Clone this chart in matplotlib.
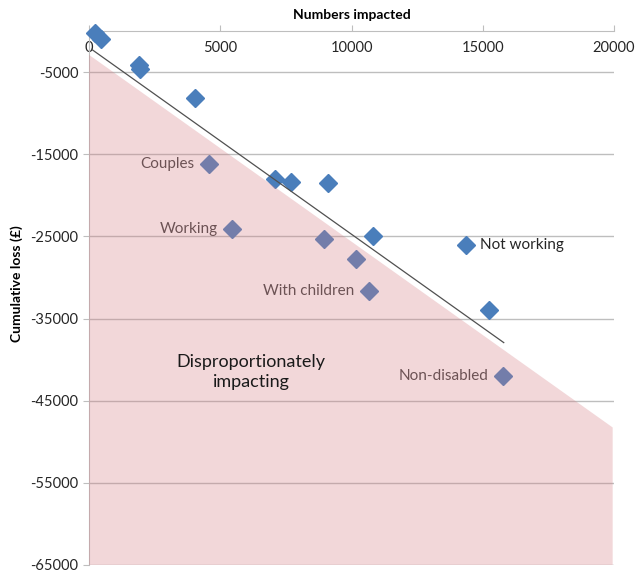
import matplotlib
matplotlib.use("Agg")
import matplotlib.pyplot as plt

plt.rcParams['font.family'] = ['Lato', 'DejaVu Sans']

# groups: numbers impacted vs cumulative loss
numbers = [230, 445, 1900, 1940, 4040, 4570, 7090, 7700, 9100, 5450,
           8950, 10800, 10170, 10670, 14360, 15240, 15770]
loss = [-240, -980, -4150, -4600, -8200, -16200, -18050, -18400, -18500, -24150,
        -25350, -24900, -27700, -31700, -26100, -33900, -41950]

# labelled groups
label_names = ["Couples", "Working", "With children", "Non-disabled", "Not working"]
label_x = [4570, 5450, 10670, 15770, 14360]
label_y = [-16200, -24150, -31700, -41950, -26100]
label_side = ["left", "left", "left", "left", "right"]

# trend line end points
trend_x = [100, 15800]
trend_y = [-2230, -37930]

# shaded "disproportionately impacting" region
shade_x = [0, 19950, 19950, 0]
shade_y = [-2900, -48260, -65000, -65000]

yticks = [-5000, -15000, -25000, -35000, -45000, -55000, -65000]
xticks = [0, 5000, 10000, 15000, 20000]

fig = plt.figure(figsize=(6.42, 5.78), dpi=100)
ax = fig.add_axes([89 / 642, 1 - 565 / 578, (614 - 89) / 642, (565 - 31) / 578])

ax.set_xlim(0, 20000)
ax.set_ylim(-65000, 0)

grid_col = "#BEBEBE"
for y in yticks:
    ax.axhline(y, color=grid_col, lw=1, zorder=1)

ax.plot(numbers, loss, "D", color="#4A7EBB", ms=9, mec="#4A7EBB", zorder=2.6,
        clip_on=False)

for name, x, y, side in zip(label_names, label_x, label_y, label_side):
    if side == "left":
        ax.text(x - 550, y, name, ha="right", va="center", fontsize=11,
                color="#404040", zorder=2)
    else:
        ax.text(x + 550, y, name, ha="left", va="center", fontsize=11,
                color="#262626", zorder=2)

ax.fill(shade_x, shade_y, color=(212 / 255, 125 / 255, 132 / 255), alpha=0.3,
        lw=0, zorder=3)

ax.plot(trend_x, trend_y, color="#505050", lw=0.9, zorder=4)

ax.text(6170, -41500, "Disproportionately\nimpacting", ha="center", va="center",
        fontsize=13, color="#1a1a1a", linespacing=1.3, zorder=5)

for s in ["right", "bottom"]:
    ax.spines[s].set_visible(False)
ax.spines["top"].set_color(grid_col)
ax.spines["left"].set_color(grid_col)

ax.xaxis.set_ticks_position("top")
ax.set_xticks(xticks)
ax.set_xticklabels([str(t) for t in xticks])
ax.tick_params(axis="x", direction="out", length=4, color=grid_col,
               pad=-21, labelsize=10.5, labelcolor="#262626")
ax.set_yticks(yticks)
ax.set_yticklabels([str(t) for t in yticks])
ax.tick_params(axis="y", direction="out", length=4, color=grid_col,
               labelsize=10.5, labelcolor="#262626")

ax.text(0.5, 1.03, "Numbers impacted", transform=ax.transAxes, ha="center",
        va="center", fontsize=10, fontweight="bold")
fig.text(17 / 642, 1 - 284 / 578, "Cumulative loss (£)", rotation=90,
         ha="center", va="center", fontsize=10, fontweight="bold")

fig.savefig("out.png", dpi=100)
